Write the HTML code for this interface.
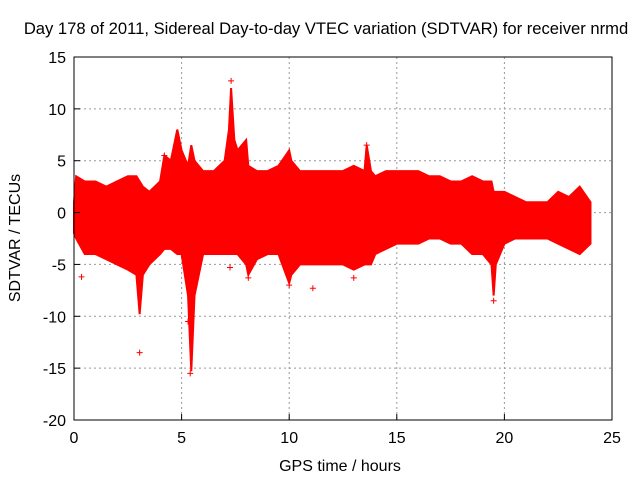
<!DOCTYPE html>
<html><head><meta charset="utf-8"><style>
body{margin:0;background:#fff;width:640px;height:480px;overflow:hidden}
svg{display:block;font-family:"Liberation Sans",sans-serif}
</style></head><body>
<svg id="chart" width="640" height="480">
<text x="326" y="34" text-anchor="middle" font-size="16.6">Day 178 of 2011, Sidereal Day-to-day VTEC variation (SDTVAR) for receiver nrmd</text>
<text x="340" y="471" text-anchor="middle" font-size="16">GPS time / hours</text>
<text transform="translate(20,238) rotate(-90)" text-anchor="middle" font-size="16">SDTVAR / TECUs</text>
<g id="grid"></g><g id="data"></g><g id="axes"></g>
</svg>
<script>
const xTicks=[0,5,10,15,20,25];
const yTicks=[15,10,5,0,-5,-10,-15,-20];
const times=[0,0.1,0.5,1,1.5,2,2.5,2.9,3.05,3.2,3.5,4,4.2,4.5,4.8,5,5.3,5.45,5.6,6,6.5,7,7.2,7.3,7.45,7.6,8,8.1,8.5,9,9.5,10,10.1,10.5,11,11.5,12,12.5,13,13.5,13.6,13.8,14,14.5,15,15.5,16,16.5,17,17.5,18,18.5,19,19.4,19.5,19.6,20,20.5,21,21.5,22,22.5,23,23.5,24];
const upper=[1,3.5,3,3,2.5,3,3.5,3.5,3,2.5,2,3,5.5,5,8,6,4.5,6.5,5,4,4,5,8,12,7,6,7,4.5,4,4,4.5,6,5,4,4,4,4,4,4.5,4,6.5,4,3.5,4,4,4,4,3.5,3.5,3,3,3.5,3,3,2,2,2,1.5,1,1,1,2,1.5,2.5,1];
const lower=[-2,-2.5,-4,-4,-4.5,-5,-5.5,-6,-9.8,-6,-5,-4,-3.5,-3.5,-4,-4,-8,-15.3,-8,-4,-4,-4,-4,-4,-4,-4,-5,-6,-4.5,-4,-4,-6.8,-6,-5,-5,-5,-5,-5,-5.5,-5,-5,-5,-4,-3.5,-3,-3,-3,-2.5,-2.5,-3,-3,-4,-4,-5,-8,-5,-3,-2.5,-2.5,-2.5,-2.5,-3,-3.5,-4,-3];
const outX=[0.35,3.05,5.4,5.3,7.25,8.1,11.1,13.0,19.5,13.6,4.2,7.3,10.0];
const outY=[-6.2,-13.5,-15.5,-10.5,-5.3,-6.3,-7.3,-6.3,-8.5,6.5,5.5,12.7,-7];
const L=74,R=612,T=57,B=420;
const sx=v=>L+(v-0)/(25-0)*(R-L);
const sy=v=>T+(15-v)/(15+20)*(B-T);
const NS="http://www.w3.org/2000/svg";
function mk(tag,attrs,parent){const e=document.createElementNS(NS,tag);for(const k in attrs)e.setAttribute(k,attrs[k]);parent.appendChild(e);return e;}
const grid=document.getElementById('grid'),data=document.getElementById('data'),axes=document.getElementById('axes');
xTicks.forEach(t=>{
  if(t>0&&t<25){const g=mk('line',{x1:sx(t),x2:sx(t),y1:T,y2:B,stroke:'#999','stroke-dasharray':'2,3'},grid);
  
  }
  const tk=mk('line',{x1:sx(t),x2:sx(t),y1:B,y2:B-6,stroke:'#000'},axes);
  
  
  const tx=mk('text',{x:sx(t),y:B+23,'text-anchor':'middle','font-size':'16'},axes);tx.textContent=t;
  
  
});
yTicks.forEach(t=>{
  if(t<15&&t>-20){const g=mk('line',{x1:L,x2:R,y1:sy(t),y2:sy(t),stroke:'#999','stroke-dasharray':'2,3'},grid);
  
  }
  const tk=mk('line',{x1:L,x2:L+6,y1:sy(t),y2:sy(t),stroke:'#000'},axes);
  
  
  const tx=mk('text',{x:L-8,y:sy(t)+6,'text-anchor':'end','font-size':'16'},axes);tx.textContent=t;
  
  
});
let pts=times.map((t,i)=>sx(t)+','+sy(upper[i]));
for(let i=times.length-1;i>=0;i--)pts.push(sx(times[i])+','+sy(lower[i]));
const band=mk('polygon',{points:pts.join(' '),fill:'#ff0000',stroke:'#ff0000','stroke-width':'2'},data);


outX.forEach((x,i)=>{
  const p=mk('path',{d:`M${sx(x)-3},${sy(outY[i])}h6M${sx(x)},${sy(outY[i])-3}v6`,stroke:'#ff0000','stroke-width':'1'},data);
  
  
});
const fr=mk('rect',{x:L,y:T,width:R-L,height:B-T,fill:'none',stroke:'#000'},axes);


</script>
</body></html>
